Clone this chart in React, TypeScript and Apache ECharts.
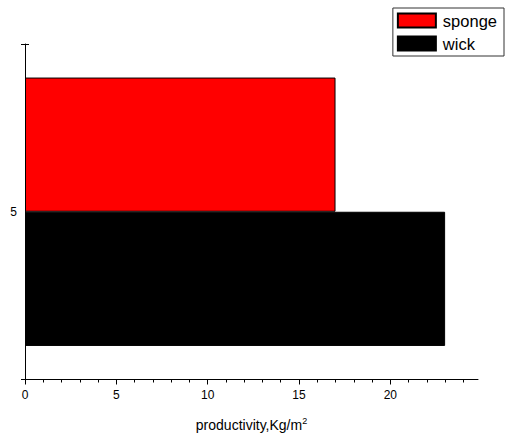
import React, { useEffect, useRef } from "react";
import * as echarts from "echarts";

const categories = ["5"];
const seriesNames = ["sponge", "wick"];
const spongeValues = [17];
const wickValues = [23];
const majorTicks = [0, 5, 10, 15, 20];
const minorTicks = [1, 2, 3, 4, 6, 7, 8, 9, 11, 12, 13, 14, 16, 17, 18, 19, 21, 22, 23, 24];
const xMin = 0;
const xMax = 24.8;

const FONT = "Liberation Sans, Arial, sans-serif";

export default function App() {
  const ref = useRef<HTMLDivElement>(null);
  useEffect(() => {
    if (!ref.current) return;
    document.body.style.margin = "0";
    const chart = echarts.init(ref.current, undefined, { renderer: "svg" });
    chart.setOption({
      animation: false,
      backgroundColor: "#ffffff",
      textStyle: { fontFamily: FONT },
      grid: { left: 25, right: 29, top: 44, bottom: 57, containLabel: false },
      legend: {
        data: seriesNames,
        orient: "vertical",
        right: 3,
        top: 8,
        itemWidth: 38,
        itemHeight: 14,
        itemGap: 6,
        padding: [4, 7, 4, 4],
        borderColor: "#333",
        borderWidth: 1,
        borderRadius: 0,
        icon: "rect",
        textStyle: { fontFamily: FONT, fontSize: 16.5, color: "#000", padding: [0, 0, 0, 2] },
      },
      xAxis: [
        {
          type: "value",
          min: xMin,
          max: xMax,
          interval: 5,
          position: "bottom",
          splitLine: { show: false },
          axisLine: { show: true, lineStyle: { color: "#000", width: 1 } },
          axisTick: { show: true, inside: false, length: 5, customValues: majorTicks, lineStyle: { color: "#000" } },
          axisLabel: { customValues: majorTicks, fontSize: 12, color: "#000", fontFamily: FONT, margin: 9 },
          name: "productivity,Kg/m{sup|2}",
          nameLocation: "middle",
          nameGap: 37,
          nameTextStyle: {
            fontSize: 14,
            color: "#000",
            fontFamily: FONT,
            rich: { sup: { fontSize: 9, verticalAlign: "top", padding: [0, 0, 8, 0], color: "#000", fontFamily: FONT } },
          },
        },
        {
          type: "value",
          min: xMin,
          max: xMax,
          interval: 5,
          position: "bottom",
          splitLine: { show: false },
          axisLine: { show: false },
          axisTick: { show: true, inside: false, length: 3, customValues: minorTicks, lineStyle: { color: "#000" } },
          axisLabel: { show: false },
        },
      ],
      yAxis: [
        {
          type: "category",
          data: categories,
          position: "left",
          axisLine: { show: true, lineStyle: { color: "#000", width: 1 } },
          axisTick: { show: true, inside: false, length: 4, lineStyle: { color: "#000" } },
          axisLabel: { fontSize: 12, color: "#000", fontFamily: FONT, margin: 8 },
          splitLine: { show: false },
        },
        {
          type: "category",
          data: categories,
          position: "left",
          axisLine: { show: false },
          axisTick: { show: true, inside: true, length: 4, lineStyle: { color: "#000" } },
          axisLabel: { show: false },
          splitLine: { show: false },
        },
      ],
      series: [
        {
          name: seriesNames[0],
          type: "bar",
          data: spongeValues,
          barGap: "0%",
          barCategoryGap: "20%",
          itemStyle: { color: "#ff0000", borderColor: "#000", borderWidth: 1 },
        },
        {
          name: seriesNames[1],
          type: "bar",
          data: wickValues,
          barGap: "0%",
          barCategoryGap: "20%",
          itemStyle: { color: "#000000", borderColor: "#000", borderWidth: 1 },
        },
      ],
    });
    return () => chart.dispose();
  }, []);
  return <div ref={ref} style={{ position: "absolute", left: 0, top: 0, width: 507, height: 437 }} />;
}
